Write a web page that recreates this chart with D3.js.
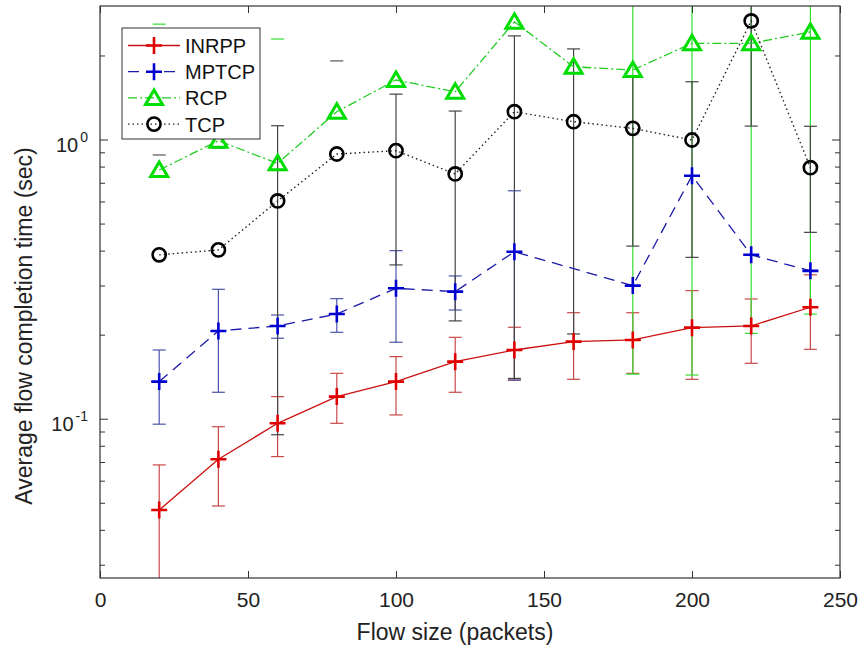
<!DOCTYPE html>
<html><head><meta charset="utf-8">
<script src="https://cdn.jsdelivr.net/npm/d3@7"></script>
<style>body{margin:0;background:#fff;} text{font-family:"Liberation Sans",Arial,sans-serif;}</style>
</head><body>
<svg id="chart" width="860" height="648"></svg>
<script>
// ---- data ----
const flowSizes = [20, 40, 60, 80, 100, 120, 140, 160, 180, 200, 220, 240];

const inrppMean = [0.0473, 0.0719, 0.0967, 0.1205, 0.1364, 0.1608, 0.177, 0.1897, 0.1923, 0.2128, 0.2158, 0.2518];
const inrppLo   = [0.02, 0.0489, 0.0735, 0.0967, 0.1036, 0.1249, 0.1382, 0.139, 0.146, 0.139, 0.1586, 0.178];
const inrppHi   = [0.0686, 0.094, 0.1205, 0.146, 0.1676, 0.1965, 0.2135, 0.2407, 0.2407, 0.2888, 0.2696, 0.329];

const mptcpMean = [0.1364, 0.2071, 0.2158, 0.2382, 0.2944, 0.2864, 0.398, null, 0.301, 0.745, 0.388, 0.340];
const mptcpLo   = [0.096, 0.1249, 0.195, 0.2048, 0.1887, 0.2461, 0.138, null, null, null, null, null];
const mptcpHi   = [0.177, 0.292, 0.2362, 0.2703, 0.4016, 0.326, 0.658, null, null, null, null, null];

const rcpMean = [0.781, 0.994, 0.825, 1.263, 1.64, 1.489, 2.65, 1.83, 1.78, 2.22, 2.22, 2.44];
const rcpLo   = [null, null, null, null, null, null, null, null, 0.145, 0.144, 0.203, 0.238];
const rcpHi   = [null, null, null, null, null, null, null, null, 4, 4, 4, 4];

const tcpMean = [0.388, 0.404, 0.605, 0.891, 0.916, 0.756, 1.263, 1.163, 1.101, 1.0, 2.67, 0.796];
const tcpLo   = [null, null, 0.088, null, 0.357, 0.225, 0.14, 0.202, 0.417, 0.38, 1.122, 0.467];
const tcpHi   = [null, null, 1.125, null, 1.46, 1.27, 2.36, 2.12, 1.68, 1.617, 4, 1.12];

// stray error-bar caps visible without their bars
const rcpCapX = [20, 60];
const rcpCapV = [2.60, 2.30];
const tcpCapX = [20, 40, 80];
const tcpCapV = [0.884, 0.936, 1.92];

const xTicks = [0, 50, 100, 150, 200, 250];
const yMajor = [0.1, 1];
const yMinor = [0.03,0.04,0.05,0.06,0.07,0.08,0.09,0.2,0.3,0.4,0.5,0.6,0.7,0.8,0.9,2,3];
const seriesNames = ["INRPP", "MPTCP", "RCP", "TCP"];

// ---- layout ----
const L = 100, R = 840, T = 6, B = 578;
const svg = d3.select("#chart");
const x = d3.scaleLinear().domain([0, 250]).range([L, R]);
const y = d3.scaleLog().domain([0.027, 3.02]).range([B, T]);

svg.append("defs").append("clipPath").attr("id", "clip")
  .append("rect").attr("x", L).attr("y", T).attr("width", R - L).attr("height", B - T);

const series = [
  {name: "INRPP", mean: inrppMean, lo: inrppLo, hi: inrppHi, color: "#e00000", lineColor: "#cc1010", errColor: "#c84848", dash: null, lw: 1.3, marker: "plus"},
  {name: "MPTCP", mean: mptcpMean, lo: mptcpLo, hi: mptcpHi, color: "#0000d0", lineColor: "#1a1aa8", errColor: "#4a55a8", dash: "11,7", lw: 1.3, marker: "plus"},
  {name: "RCP", mean: rcpMean, lo: rcpLo, hi: rcpHi, color: "#00dd00", lineColor: "#22cc22", errColor: "#33dd33", dash: "9,3,2,3", lw: 1.3, marker: "tri"},
  {name: "TCP", mean: tcpMean, lo: tcpLo, hi: tcpHi, color: "#000000", lineColor: "#222222", errColor: "#444444", dash: "1.5,3", lw: 1.4, marker: "circ"}
];

const plot = svg.append("g").attr("clip-path", "url(#clip)");
const capW = 6.5;

// error bars
series.forEach(s => {
  const g = plot.append("g");
  flowSizes.forEach((fx, i) => {
    if (s.lo[i] == null || s.hi[i] == null) return;
    const px = x(fx);
    g.append("line").attr("x1", px).attr("x2", px).attr("y1", y(s.lo[i])).attr("y2", y(s.hi[i]))
      .attr("stroke", s.errColor).attr("stroke-width", 1.2);
    [s.lo[i], s.hi[i]].forEach(v => {
      g.append("line").attr("x1", px - capW).attr("x2", px + capW).attr("y1", y(v)).attr("y2", y(v))
        .attr("stroke", s.errColor).attr("stroke-width", 1.2);
    });
  });
});
// stray caps
rcpCapX.forEach((fx, i) => plot.append("line").attr("x1", x(fx) - capW).attr("x2", x(fx) + capW)
  .attr("y1", y(rcpCapV[i])).attr("y2", y(rcpCapV[i])).attr("stroke", "#33dd33").attr("stroke-width", 1.2));
tcpCapX.forEach((fx, i) => plot.append("line").attr("x1", x(fx) - capW).attr("x2", x(fx) + capW)
  .attr("y1", y(tcpCapV[i])).attr("y2", y(tcpCapV[i])).attr("stroke", "#555").attr("stroke-width", 1.2));

function drawMarker(g, type, cx, cy, color) {
  if (type === "plus") {
    g.append("path").attr("d", `M${cx-8},${cy}H${cx+8}M${cx},${cy-8.5}V${cy+8.5}`)
      .attr("stroke", color).attr("stroke-width", 2.6).attr("fill", "none");
  } else if (type === "tri") {
    g.append("path").attr("d", `M${cx},${cy-8}L${cx+8.5},${cy+6.5}L${cx-8.5},${cy+6.5}Z`)
      .attr("stroke", color).attr("stroke-width", 3).attr("fill", "none").attr("stroke-linejoin", "miter");
  } else {
    g.append("circle").attr("cx", cx).attr("cy", cy).attr("r", 6.6)
      .attr("stroke", color).attr("stroke-width", 2.6).attr("fill", "none");
  }
}

// lines + markers
series.forEach(s => {
  const pts = flowSizes.map((fx, i) => [fx, s.mean[i]]).filter(p => p[1] != null);
  const line = d3.line().x(p => x(p[0])).y(p => y(p[1]));
  plot.append("path").attr("d", line(pts)).attr("fill", "none")
    .attr("stroke", s.lineColor).attr("stroke-width", s.lw)
    .attr("stroke-dasharray", s.dash);
  const g = plot.append("g");
  pts.forEach(p => drawMarker(g, s.marker, x(p[0]), y(p[1]), s.color));
});

// ---- axes ----
const axisColor = "#333";
const ax = svg.append("g");
ax.append("rect").attr("x", L).attr("y", T).attr("width", R - L).attr("height", B - T)
  .attr("fill", "none").attr("stroke", axisColor).attr("stroke-width", 1.2);

// x ticks (inward, top and bottom) via d3 axis
const xAxisB = d3.axisBottom(x).tickValues(xTicks).tickSize(-7).tickPadding(14).tickFormat(d3.format("d"));
const gxb = svg.append("g").attr("transform", `translate(0,${B})`).call(xAxisB);
gxb.select(".domain").remove();
gxb.selectAll("line").attr("stroke", axisColor);
gxb.selectAll("text").attr("font-size", 21).attr("fill", "#222").attr("dy", "0.71em");
const xAxisT = d3.axisTop(x).tickValues(xTicks).tickSize(-7).tickFormat("");
const gxt = svg.append("g").attr("transform", `translate(0,${T})`).call(xAxisT);
gxt.select(".domain").remove();
gxt.selectAll("line").attr("stroke", axisColor);

// y ticks inward, left and right
function yTicksSide(xpos, dir) {
  const g = svg.append("g");
  yMajor.forEach(v => g.append("line").attr("x1", xpos).attr("x2", xpos + dir * 8)
    .attr("y1", y(v)).attr("y2", y(v)).attr("stroke", axisColor));
  yMinor.filter(v => y(v) > T + 1).forEach(v => g.append("line").attr("x1", xpos).attr("x2", xpos + dir * 5)
    .attr("y1", y(v)).attr("y2", y(v)).attr("stroke", axisColor));
}
yTicksSide(L, 1);
yTicksSide(R, -1);

// y tick labels 10^k
yMajor.forEach(v => {
  const e = Math.round(Math.log10(v));
  const t = svg.append("text").attr("x", 88).attr("y", y(v) + 12).attr("text-anchor", "end")
    .attr("font-size", 20).attr("fill", "#222");
  t.append("tspan").text("10");
  t.append("tspan").attr("dy", -10).attr("font-size", 14).attr("dx", 2).text(e < 0 ? "-" + (-e) : String(e));
});

// axis titles
svg.append("text").attr("x", 455).attr("y", 640).attr("text-anchor", "middle")
  .attr("font-size", 23).attr("fill", "#222").text("Flow size (packets)");
svg.append("text").attr("transform", "translate(32,326) rotate(-90)").attr("text-anchor", "middle")
  .attr("font-size", 23).attr("fill", "#222").text("Average flow completion time (sec)");

// ---- legend ----
const lg = svg.append("g");
lg.append("rect").attr("x", 122).attr("y", 28).attr("width", 138).attr("height", 111)
  .attr("fill", "#fff").attr("stroke", "#333").attr("stroke-width", 1);
series.forEach((s, i) => {
  const cy = 45.5 + i * 26.2;
  lg.append("line").attr("x1", 128).attr("x2", 180).attr("y1", cy).attr("y2", cy)
    .attr("stroke", s.lineColor).attr("stroke-width", s.lw).attr("stroke-dasharray", s.dash);
  drawMarker(lg, s.marker, 154, cy, s.color);
  lg.append("text").attr("x", 185).attr("y", cy + 7.5).attr("font-size", 20).attr("fill", "#111").text(seriesNames[i]);
});
</script>
</body></html>
